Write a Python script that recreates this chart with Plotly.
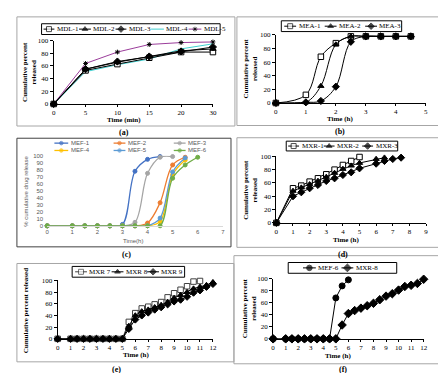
import plotly.graph_objects as go

# ---------------- data ----------------
# (a) MDL formulations, time in minutes (category axis)
mdl_time_labels = ["0", "5", "10", "15", "20", "30"]
mdl_1 = [0, 53, 63, 73, 82, 82]
mdl_2 = [0, 55, 66, 75, 84, 87]
mdl_3 = [0, 55, 67, 75, 83, 90]
mdl_4 = [0, 51, 62, 71, 87, 95]
mdl_5 = [0, 64, 82, 94, 97, 98]

# (b) MEA formulations
mea_time = [0, 1, 1.5, 2, 2.5, 3, 3.5, 4, 4.5]
mea_1 = [0, 12, 68, 88, 98, 98, 98, 98, 98]
mea_2 = [0, 1, 25, 86, 98, 98, 98, 98, 98]
mea_3 = [0, 1, 3, 24, 90, 98, 98, 98, 98]

# (c) MEF formulations
mef_time = [0, 1, 1.5, 2, 2.5, 3, 3.5, 4, 4.5, 5, 5.5, 6]
mef_1 = [0, 0, 0, 0, 0, 2, 78, 95, 99]
mef_2 = [0, 0, 0, 0, 0, 0, 0, 4, 33, 87, 98]
mef_3 = [0, 0, 0, 0, 0, 0, 5, 75, 98, 99]
mef_4 = [0, 0, 0, 0, 0, 0, 0, 0, 6, 73, 94]
mef_5 = [0, 0, 0, 0, 0, 0, 0, 0, 11, 77, 97]
mef_6 = [0, 0, 0, 0, 0, 0, 0, 0, 0, 68, 87, 98]

# (d) MXR-1..3
mxr_d_time = [0, 1, 1.5, 2, 2.5, 3, 3.5, 4, 4.5, 5, 6, 6.5, 7, 7.5]
mxr_1 = [0, 52, 56, 62, 67, 73, 80, 87, 93, 99]
mxr_2 = [0, 48, 53, 58, 63, 69, 75, 81, 86, 90, 96, 98]
mxr_3 = [0, 40, 46, 52, 57, 63, 67, 72, 76, 82, 89, 93, 96, 98]

# (e) MXR 7..9
mxr_e_time = [0, 1, 1.5, 2, 2.5, 3, 3.5, 4, 4.5, 5, 5.5, 6, 6.5, 7, 7.5, 8,
              8.5, 9, 9.5, 10, 10.5, 11, 11.5, 12]
mxr_7 = [0, 0, 0, 0, 0, 0, 0, 0, 0, 0, 29, 44, 52, 55, 59, 63, 71, 78, 84, 90, 98, 99]
mxr_8 = [0, 0, 0, 0, 0, 0, 0, 0, 0, 0, 22, 40, 47, 50, 54, 58, 63, 70, 75, 80, 86, 89, 92, 97]
mxr_9 = [0, 0, 0, 0, 0, 0, 0, 0, 0, 0, 17, 33, 40, 45, 50, 54, 59, 64, 67, 72, 79, 83, 89, 94]

# (f) MEF-6 vs MXR-8
f_time = [0, 1, 1.5, 2, 2.5, 3, 3.5, 4, 4.5, 5, 5.5, 6, 6.5, 7, 7.5, 8,
          8.5, 9, 9.5, 10, 10.5, 11, 11.5, 12]
f_mef_6 = [0, 0, 0, 0, 0, 0, 0, 0, 0, 68, 88, 98]
f_mxr_8 = [0, 0, 0, 0, 0, 0, 0, 0, 0, 0, 23, 42, 47, 51, 55, 59, 65, 71, 75, 81, 87, 89, 92, 99]

y_ticks_20 = [0, 20, 40, 60, 80, 100]
y_ticks_10 = [0, 10, 20, 30, 40, 50, 60, 70, 80, 90, 100]

# ---------------- layout helpers ----------------
W, H = 446, 373
SERIF = "Liberation Serif"
SANS = "Liberation Sans"
tick_font = dict(family=SERIF, size=7, color="black")
leg_font = dict(family=SERIF, size=7, color="black")
title_font = dict(family=SERIF, size=7, color="black")
c_font = dict(family=SANS, size=6, color="#595959")
panel_font = dict(family=SERIF, size=8, color="black")

fig = go.Figure()


def ax_name(i, kind):
    return kind + ("" if i == 1 else str(i))


def set_axes(i, xpx, ypx, xrange, xtickvals, ytickvals, xticktext=None, modern=False):
    xd = [xpx[0] / W, xpx[1] / W]
    yd = [1 - ypx[1] / H, 1 - ypx[0] / H]
    if modern:
        xa = dict(domain=xd, range=xrange, tickvals=xtickvals, ticks="", showline=True,
                  linecolor="#d9d9d9", linewidth=1, showgrid=False, zeroline=False,
                  tickfont=c_font, anchor=ax_name(i, "y"), fixedrange=True)
        ya = dict(domain=yd, range=[0, 100], tickvals=ytickvals, ticks="", showline=False,
                  showgrid=False, zeroline=False, tickfont=c_font, anchor=ax_name(i, "x"),
                  fixedrange=True, ticklabelstandoff=3)
    else:
        xa = dict(domain=xd, range=xrange, tickvals=xtickvals, ticks="outside", ticklen=2,
                  tickcolor="black", showline=True, linecolor="black", linewidth=1,
                  showgrid=False, zeroline=False, tickfont=tick_font,
                  anchor=ax_name(i, "y"), fixedrange=True)
        ya = dict(domain=yd, range=[0, 100], tickvals=ytickvals, ticks="outside", ticklen=3,
                  tickcolor="black", showline=True, linecolor="black", linewidth=1,
                  showgrid=False, zeroline=False, tickfont=tick_font,
                  anchor=ax_name(i, "x"), fixedrange=True)
    if xticktext is not None:
        xa["ticktext"] = xticktext
    fig.layout[ax_name(i, "xaxis")] = xa
    fig.layout[ax_name(i, "yaxis")] = ya


def series(i, x, y, name, color="black", symbol=None, size=5.5, fill="black",
           smooth=False, width=1):
    fig.add_trace(go.Scatter(
        x=x, y=y, name=name, mode="lines+markers" if symbol else "lines",
        line=dict(color=color, width=width, shape="spline" if smooth else "linear"),
        marker=dict(symbol=symbol or "circle", size=size, color=fill,
                    line=dict(color=color, width=1)),
        xaxis=ax_name(i, "x"), yaxis=ax_name(i, "y"), cliponaxis=False,
        showlegend=False))


# overlay pixel axis for panel frames and legend keys
fig.layout["xaxis7"] = dict(domain=[0, 1], range=[0, W], visible=False, fixedrange=True,
                            anchor="y7")
fig.layout["yaxis7"] = dict(domain=[0, 1], range=[H, 0], visible=False, fixedrange=True,
                            anchor="x7")


def box(x0, y0, x1, y1, color="#a6a6a6", width=1):
    fig.add_shape(type="rect", xref="x7", yref="y7", x0=x0, y0=y0, x1=x1, y1=y1,
                  line=dict(color=color, width=width), fillcolor="rgba(0,0,0,0)",
                  layer="below")


def legend_item(x0, x1, y, text, color="black", symbol=None, size=5, fill="black",
                font=leg_font, width=1):
    xm = (x0 + x1) / 2
    s = size if symbol else 0
    fig.add_trace(go.Scatter(
        x=[x0, xm, x1], y=[y, y, y], mode="lines+markers",
        line=dict(color=color, width=width),
        marker=dict(symbol=symbol or "circle", size=[0, s, 0], color=fill,
                    line=dict(color=color, width=[0, 1 if symbol else 0, 0])),
        xaxis="x7", yaxis="y7", showlegend=False, hoverinfo="skip", cliponaxis=False))
    fig.add_annotation(x=x1 + 1.5, y=y, xref="x7", yref="y7", text=text, showarrow=False,
                       xanchor="left", yanchor="middle", font=font, borderpad=0)


def label(x, y, text, font, angle=0, bold=True):
    fig.add_annotation(x=x, y=y, xref="x7", yref="y7",
                       text=f"<b>{text}</b>" if bold else text,
                       showarrow=False, xanchor="center", yanchor="middle",
                       font=font, textangle=angle, borderpad=0)


# ---------------- (a) ----------------
box(7, 5, 228, 116.5)
xa_idx = list(range(len(mdl_time_labels)))
set_axes(1, (44.3, 205.7), (29.3, 94), [0, 5], xa_idx, y_ticks_20,
         xticktext=mdl_time_labels)
series(1, xa_idx, mdl_5, "MDL-5", color="#9b3d9b", symbol="asterisk-open", size=4)
series(1, xa_idx, mdl_4, "MDL-4", color="#3fcfcf")
series(1, xa_idx, mdl_1, "MDL-1", symbol="square", fill="white")
series(1, xa_idx, mdl_2, "MDL-2", symbol="triangle-up")
series(1, xa_idx, mdl_3, "MDL-3", symbol="diamond")
box(32, 12, 213, 23, color="black")
legend_item(34, 45, 17.5, "MDL-1", symbol="square", fill="white")
legend_item(70, 82, 17.5, "MDL-2", symbol="triangle-up")
legend_item(107, 118, 17.5, "MDL-3", symbol="diamond")
legend_item(143, 156, 17.5, "MDL-4", color="#3fcfcf")
legend_item(181, 194, 17.5, "MDL-5", color="#9b3d9b", symbol="asterisk-open", size=4)
label(19.5, 61, "Cumulative percent<br>released", title_font, angle=-90)
label(116, 110.5, "Time (min)", title_font)
label(116, 123.5, "(a)", panel_font)

# ---------------- (b) ----------------
box(230, 5, 443, 116)
set_axes(2, (269.5, 421.5), (23.5, 93), [0, 5], [0, 1, 2, 3, 4, 5], y_ticks_20)
series(2, mea_time, mea_1, "MEA-1", symbol="square", fill="white", smooth=True)
series(2, mea_time, mea_2, "MEA-2", symbol="triangle-up", smooth=True)
series(2, mea_time, mea_3, "MEA-3", symbol="diamond", smooth=True)
box(275, 9, 397, 20, color="black")
legend_item(278, 290, 14.5, "MEA-1", symbol="square", fill="white")
legend_item(319, 331, 14.5, "MEA-2", symbol="triangle-up")
legend_item(360, 372, 14.5, "MEA-3", symbol="diamond")
label(244, 58, "Cumulative percent<br>released", title_font, angle=-90)
label(334, 109.5, "Time (h)", title_font)
label(334, 122.5, "(b)", panel_font)

# ---------------- (c) ----------------
box(7, 129, 224, 240, color="#404040")
set_axes(3, (37.7, 215.7), (147, 218.5), [0, 7], [0, 1, 2, 3, 4, 5, 6, 7], y_ticks_10,
         modern=True)
c_colors = ["#4472c4", "#ed7d31", "#a5a5a5", "#ffc000", "#5b9bd5", "#70ad47"]
c_names = ["MEF-1", "MEF-2", "MEF-3", "MEF-4", "MEF-5", "MEF-6"]
c_series = [mef_1, mef_2, mef_3, mef_4, mef_5, mef_6]
for name, col, vals in zip(c_names, c_colors, c_series):
    series(3, mef_time[:len(vals)], vals, name, color=col, symbol="circle", size=4,
           fill=col, smooth=True, width=1.3)
c_leg_x = [(45, 59), (105, 117), (166, 178)]
c_leg_y = [134, 141.5]
for k, (name, col) in enumerate(zip(c_names, c_colors)):
    lx = c_leg_x[k % 3]
    ly = c_leg_y[k // 3]
    legend_item(lx[0], lx[1], ly, name, color=col, symbol="circle", size=3.5, fill=col,
                font=c_font, width=1.3)
label(16, 183, "% cumulative drug release", c_font, angle=-90, bold=False)
label(125, 234, "Time(h)", c_font, bold=False)
label(118, 248, "(c)", panel_font)

# ---------------- (d) ----------------
box(230, 128.5, 443, 240.5)
set_axes(4, (270, 421.7), (147.5, 215.5), [0, 9], list(range(10)), y_ticks_20)
series(4, mxr_d_time[:len(mxr_1)], mxr_1, "MXR-1", symbol="square", fill="white")
series(4, mxr_d_time[:len(mxr_2)], mxr_2, "MXR-2", symbol="triangle-up")
series(4, mxr_d_time[:len(mxr_3)], mxr_3, "MXR-3", symbol="diamond")
box(280, 132, 393, 142, color="black")
legend_item(282, 293, 137, "MXR-1", symbol="square", fill="white")
legend_item(318, 329, 137, "MXR-2", symbol="triangle-up")
legend_item(357, 368, 137, "MXR-3", symbol="diamond")
label(243, 182, "Cumulative percent<br>released", title_font, angle=-90)
label(341, 233.5, "Time (h)", title_font)
label(338, 247.5, "(d)", panel_font)

# ---------------- (e) ----------------
box(7, 257, 227, 357.5)
set_axes(5, (48.3, 205.7), (274.3, 334), [0, 12], list(range(13)), y_ticks_20)
series(5, mxr_e_time[:len(mxr_7)], mxr_7, "MXR 7", color="#404040", symbol="square",
       fill="white")
series(5, mxr_e_time[:len(mxr_8)], mxr_8, "MXR 8", symbol="triangle-up")
series(5, mxr_e_time[:len(mxr_9)], mxr_9, "MXR 9", symbol="diamond")
box(63, 260, 177, 271, color="black")
legend_item(66, 78, 265.5, "MXR 7", color="#404040", symbol="square", fill="white")
legend_item(103, 115, 265.5, "MXR 8", symbol="triangle-up")
legend_item(139, 151, 265.5, "MXR 9", symbol="diamond")
label(17, 305, "Cumulative percent released", title_font, angle=-90)
label(128, 350.5, "Time (h)", title_font)
label(108, 365.5, "(e)", panel_font)

# ---------------- (f) ----------------
box(227, 249, 445, 359.5)
set_axes(6, (266.7, 419.3), (272.5, 334), [0, 12], list(range(13)), y_ticks_20)
series(6, f_time[:len(f_mef_6)], f_mef_6, "MEF-6", symbol="circle", size=6)
series(6, f_time[:len(f_mxr_8)], f_mxr_8, "MXR-8", symbol="diamond", size=6.5)
box(282, 256, 392, 267, color="black")
legend_item(297, 310, 261.5, "MEF-6", symbol="circle", size=5.5)
legend_item(336, 348, 261.5, "MXR-8", symbol="diamond", size=6)
label(243, 303, "Cumulative percent<br>released", title_font, angle=-90)
label(332, 352, "Time (h)", title_font)
label(338, 365.5, "(f)", panel_font)

fig.update_layout(width=W, height=H, margin=dict(l=0, r=0, t=0, b=0),
                  paper_bgcolor="white", plot_bgcolor="rgba(0,0,0,0)",
                  showlegend=False, hovermode=False)
fig.write_html("out.html")
